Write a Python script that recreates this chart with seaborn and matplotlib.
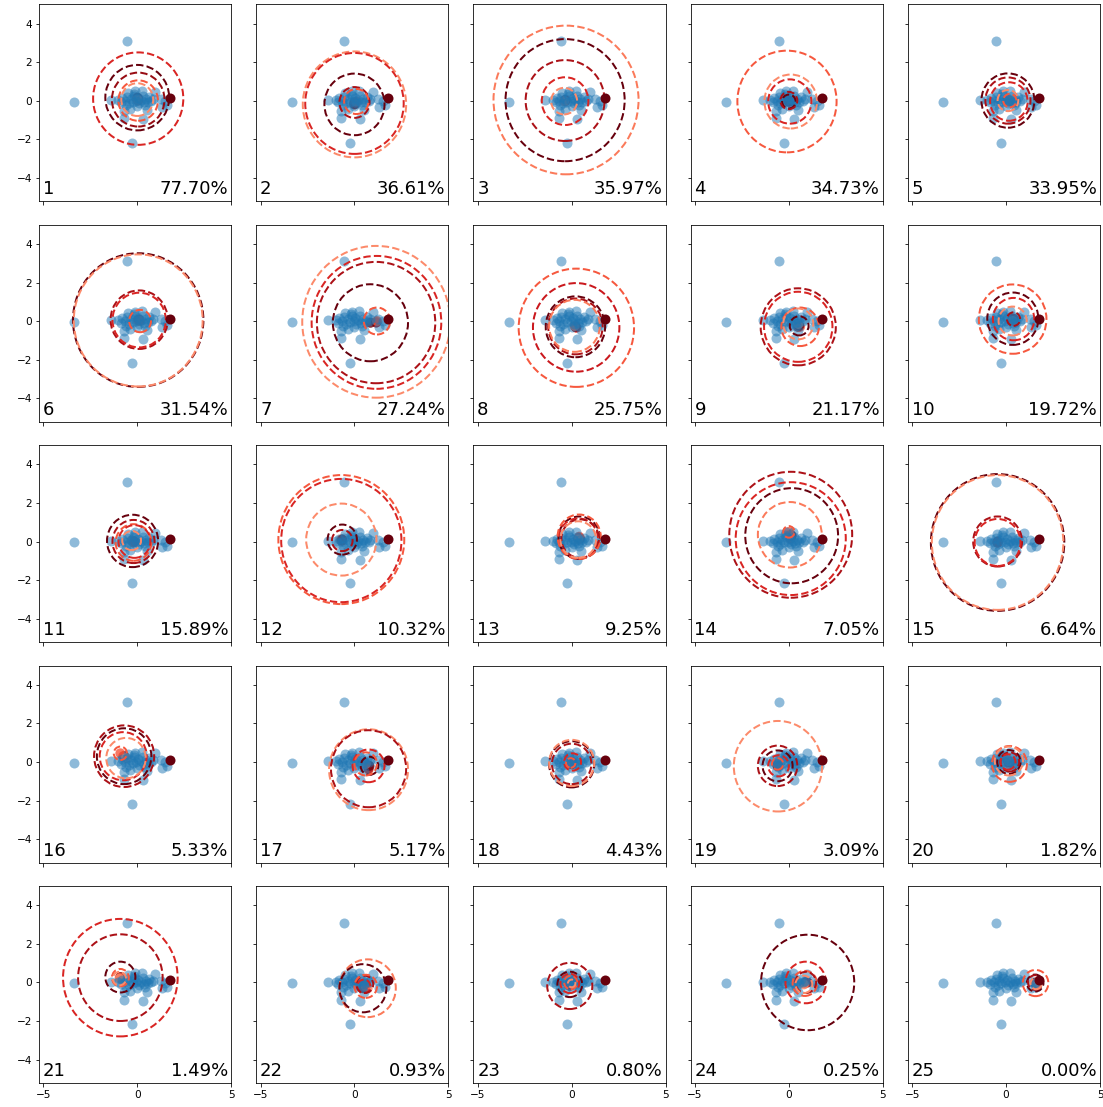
import matplotlib
matplotlib.use("Agg")
import matplotlib.pyplot as plt
from matplotlib.patches import Circle
import numpy as np
import pandas as pd
import seaborn as sns

# Embedded sample positions (2-D)
pts_x = [-0.55, -3.35, -0.26, -1.40, -0.69, 0.28, 0.51, -0.37, -0.70, 0.97,
         0.23, -0.14, -0.49, 1.33, 1.60, 1.50, 1.25,
         -1.00, -0.85, -0.80, -0.65, -0.55, -0.45, -0.35, -0.25, -0.15, -0.05,
         0.05, 0.10, 0.20, 0.30, 0.35, 0.45, 0.55, 0.65, 0.75, 0.85,
         -0.60, 0.00, 0.40, -0.20]
pts_y = [3.10, -0.05, -2.18, 0.05, -0.89, -0.94, -0.47, -0.43, -0.52, 0.46,
         0.50, 0.47, 0.40, -0.31, -0.22, -0.02, 0.10,
         0.05, -0.10, 0.15, 0.00, 0.20, -0.15, 0.10, -0.05, 0.25, 0.00,
         0.15, -0.15, 0.05, 0.25, -0.10, 0.10, -0.05, 0.20, 0.00, 0.10,
         -0.25, -0.30, -0.25, 0.35]

# Query point shown in every panel
query_x, query_y = 1.76, 0.12

# Panel ids and their shares
panel_ids = list(range(1, 26))
shares = [77.70, 36.61, 35.97, 34.73, 33.95,
          31.54, 27.24, 25.75, 21.17, 19.72,
          15.89, 10.32, 9.25, 7.05, 6.64,
          5.33, 5.17, 4.43, 3.09, 1.82,
          1.49, 0.93, 0.80, 0.25, 0.00]

# Rings per panel: (center x, center y, radius, shade on the Reds map)
rings = [
    [(0.05, 0.10, 2.40, 0.70), (0.00, 0.15, 1.70, 1.00), (0.05, 0.05, 1.40, 0.90), (0.05, 0.00, 1.05, 0.55), (0.00, 0.05, 0.85, 0.40)],
    [(0.00, -0.20, 2.75, 0.40), (0.00, -0.15, 2.62, 0.70), (0.00, -0.20, 1.60, 1.00), (0.00, -0.10, 0.80, 0.85), (0.10, -0.05, 0.65, 0.55)],
    [(-0.30, 0.03, 3.86, 0.45), (-0.35, 0.02, 3.17, 1.00), (-0.35, 0.00, 2.10, 0.85), (-0.35, -0.03, 1.24, 0.70), (-0.40, -0.03, 0.69, 0.40)],
    [(-0.10, -0.05, 2.64, 0.55), (0.10, -0.05, 1.40, 0.40), (0.05, -0.05, 1.15, 0.70), (0.00, -0.05, 0.36, 1.00), (0.00, 0.00, 0.45, 0.85)],
    [(0.10, 0.00, 1.41, 1.00), (0.10, 0.00, 1.20, 0.85), (0.15, -0.05, 1.00, 0.70), (0.10, 0.00, 0.55, 0.40), (0.20, 0.00, 0.35, 0.55)],
    [(0.05, 0.05, 3.47, 1.00), (0.05, 0.03, 3.43, 0.40), (0.10, 0.07, 1.52, 0.85), (0.10, 0.05, 1.42, 0.70), (0.15, 0.00, 0.58, 0.55)],
    [(1.16, -0.04, 3.94, 0.40), (1.17, -0.07, 3.45, 0.70), (1.15, -0.08, 3.15, 0.85), (0.85, -0.09, 2.00, 1.00), (1.20, 0.00, 0.70, 0.55)],
    [(0.25, -0.35, 3.07, 0.55), (0.24, -0.33, 2.30, 0.75), (0.20, -0.30, 1.58, 1.00), (0.20, -0.28, 1.45, 0.85), (0.15, -0.25, 1.35, 0.45)],
    [(0.50, -0.30, 2.00, 0.85), (0.50, -0.30, 1.82, 0.70), (0.60, -0.30, 1.00, 0.55), (0.55, -0.25, 0.50, 1.00), (0.50, -0.15, 0.80, 0.40)],
    [(0.35, 0.10, 1.80, 0.55), (0.36, 0.12, 1.36, 1.00), (0.40, 0.10, 1.10, 0.70), (0.40, 0.10, 0.35, 0.85), (0.35, 0.00, 0.75, 0.40)],
    [(-0.25, 0.03, 1.36, 1.00), (-0.20, 0.00, 1.12, 0.85), (-0.20, -0.05, 0.95, 0.55), (-0.30, 0.05, 0.50, 0.40), (-0.15, 0.00, 0.85, 0.70)],
    [(-0.70, 0.10, 3.35, 0.55), (-0.70, 0.05, 3.20, 0.70), (-0.70, 0.10, 1.87, 0.40), (-0.65, 0.10, 0.78, 1.00), (-0.65, 0.05, 0.55, 0.85)],
    [(0.40, 0.20, 1.10, 1.00), (0.35, 0.15, 1.05, 0.70), (0.45, 0.15, 1.00, 0.85), (0.40, 0.25, 1.15, 0.55), (0.35, 0.10, 0.95, 0.40)],
    [(0.10, 0.35, 3.27, 0.85), (0.10, 0.15, 2.93, 0.70), (0.15, 0.30, 2.47, 1.00), (0.05, 0.35, 1.70, 0.45), (0.00, 0.50, 0.30, 0.55)],
    [(-0.45, -0.05, 3.55, 1.00), (-0.45, -0.05, 3.50, 0.40), (-0.45, 0.00, 1.30, 0.85), (-0.45, -0.05, 1.22, 0.70)],
    [(-0.70, 0.30, 1.60, 0.85), (-0.70, 0.30, 1.45, 1.00), (-0.75, 0.30, 1.25, 0.70), (-0.90, 0.45, 0.35, 0.55), (-0.60, 0.20, 1.05, 0.40)],
    [(0.75, -0.40, 2.10, 0.40), (0.75, -0.35, 2.00, 0.85), (0.75, -0.20, 0.85, 0.70), (0.80, -0.20, 0.47, 1.00), (0.60, -0.10, 0.60, 0.55)],
    [(0.00, -0.12, 1.20, 1.00), (0.00, -0.05, 1.20, 0.40), (0.00, -0.10, 1.05, 0.85), (0.05, 0.00, 0.45, 0.70), (-0.05, -0.05, 0.25, 0.55)],
    [(-0.58, -0.22, 2.35, 0.40), (-0.60, -0.20, 1.05, 0.85), (-0.60, -0.20, 0.80, 1.00), (-0.55, -0.20, 0.55, 0.70), (-0.60, -0.10, 0.30, 0.55)],
    [(0.18, -0.10, 0.93, 0.55), (0.15, 0.00, 0.62, 1.00), (0.20, 0.00, 0.50, 0.85), (0.10, 0.00, 0.40, 0.70), (0.15, 0.05, 0.75, 0.40)],
    [(-0.90, 0.25, 3.05, 0.70), (-0.90, 0.25, 2.25, 0.85), (-0.90, 0.28, 0.80, 1.00), (-0.90, 0.25, 0.45, 0.55), (-0.95, 0.20, 0.35, 0.40)],
    [(0.70, -0.30, 1.50, 0.45), (0.45, -0.30, 1.25, 1.00), (0.50, -0.20, 0.35, 0.70), (0.55, -0.10, 0.45, 0.85), (0.60, -0.20, 0.60, 0.55)],
    [(-0.10, -0.18, 1.20, 0.85), (-0.10, -0.10, 0.66, 1.00), (-0.05, 0.00, 0.35, 0.55), (0.00, -0.05, 0.20, 0.40), (-0.10, -0.05, 0.50, 0.70)],
    [(1.00, 0.00, 2.48, 1.00), (0.90, 0.00, 1.08, 0.70), (0.85, -0.05, 0.65, 0.55), (0.90, 0.00, 0.55, 0.85), (0.80, -0.10, 0.45, 0.40)],
    [(1.57, -0.03, 0.68, 0.55), (1.55, -0.03, 0.44, 1.00), (1.55, 0.00, 0.38, 0.85), (1.60, -0.05, 0.30, 0.40)],
]

points = pd.DataFrame({"x": pts_x, "y": pts_y})
reds = matplotlib.colormaps["Reds"]

plt.rcParams["xtick.labelsize"] = 10.5
plt.rcParams["ytick.labelsize"] = 10.5

fig, axes = plt.subplots(5, 5, figsize=(1103 / 72, 1107 / 72), dpi=72,
                         sharex=True, sharey=True)
fig.subplots_adjust(left=39 / 1103, right=1100 / 1103,
                    top=1 - 4.25 / 1107, bottom=1 - 1083.2 / 1107,
                    wspace=0.130, hspace=0.119)

for ax, pid, share, panel_rings in zip(axes.flat, panel_ids, shares, rings):
    centers = pd.DataFrame(panel_rings, columns=["x", "y", "r", "shade"])
    # ring centres, partly hidden under the samples
    ax.scatter(centers["x"], centers["y"], s=100, c=[reds(v) for v in centers["shade"]],
               alpha=0.8, linewidths=0, zorder=1)
    sns.scatterplot(data=points, x="x", y="y", ax=ax, color="#1f77b4",
                    alpha=0.5, s=100, linewidth=0, zorder=2, legend=False)
    for _, row in centers.iterrows():
        ax.add_patch(Circle((row["x"], row["y"]), row["r"], fill=False,
                            linestyle="--", linewidth=2.0,
                            edgecolor=reds(row["shade"]), zorder=3))
    ax.scatter([query_x], [query_y], s=100, color=reds(1.0), linewidths=0, zorder=4)
    ax.text(0.02, 0.015, str(pid), transform=ax.transAxes, ha="left",
            va="bottom", fontsize=18)
    ax.text(0.985, 0.015, f"{share:.2f}%", transform=ax.transAxes, ha="right",
            va="bottom", fontsize=18)
    ax.set_xlabel("")
    ax.set_ylabel("")

ax0 = axes[0, 0]
ax0.set_xlim(-5.23, 5.0)
ax0.set_ylim(-5.23, 5.0)
ax0.set_xticks([-5, 0, 5])
ax0.set_yticks([-4, -2, 0, 2, 4])

fig.savefig("out.png", dpi=72)
